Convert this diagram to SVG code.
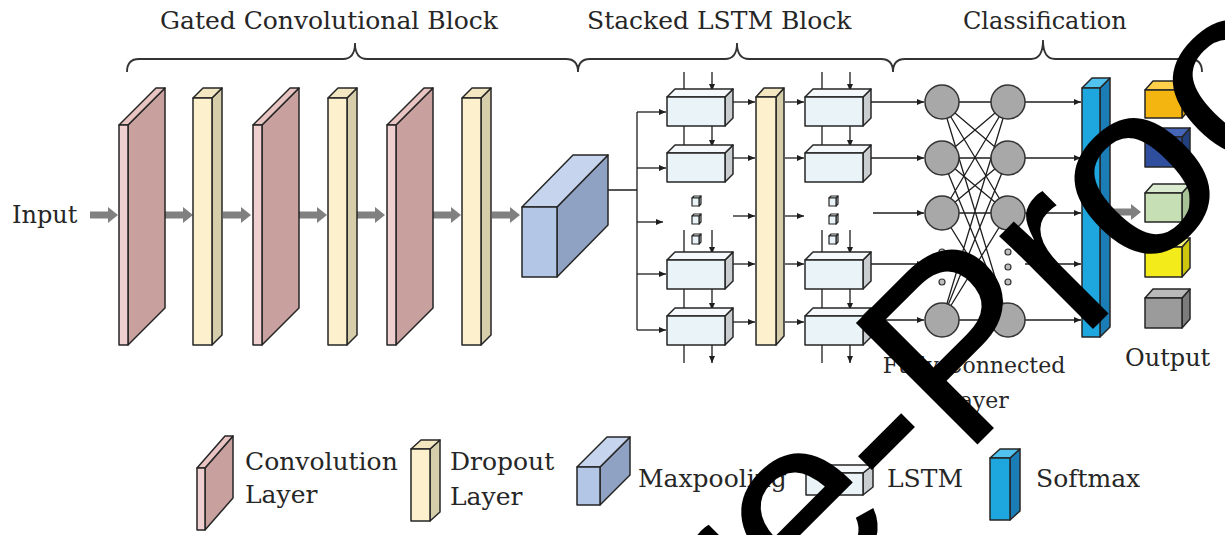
<svg xmlns="http://www.w3.org/2000/svg" xmlns:xlink="http://www.w3.org/1999/xlink" width="1225" height="535" viewBox="0 0 1225 535">
  <style>
    .lbl { font-family: "DejaVu Serif", "Liberation Serif", serif; fill: #262626; }
    .ol { stroke: #262626; stroke-width: 1.5; stroke-linejoin: round; }
    .brace { fill: none; stroke: #333; stroke-width: 1.8; }
    .wire { fill: none; stroke: #1e1e1e; stroke-width: 1.3; }
    .arr { fill: none; stroke: #1e1e1e; stroke-width: 1.3; marker-end: url(#tip); }
    .fat { fill: #808080; }
    .conv-f { fill: #efcfcf; } .conv-s { fill: #c8a09e; } .conv-t { fill: #e8c4c3; }
    .drop-f { fill: #fdf1cd; } .drop-s { fill: #d6cdab; } .drop-t { fill: #f3e7c2; }
    .pool-f { fill: #b3c6e6; } .pool-s { fill: #8fa2c4; } .pool-t { fill: #c6d4ee; }
    .lstm-f { fill: #eaf4f8; } .lstm-s { fill: #c9cdd0; } .lstm-t { fill: #f5f9fb; }
    .soft-f { fill: #1ea6df; } .soft-s { fill: #1b7db6; } .soft-t { fill: #52c2ee; }
    .node { fill: #a8a8a8; stroke: #333; stroke-width: 1.5; }
    .dot { fill: #bdbdbd; stroke: #333; stroke-width: 1.2; }
  </style>
  <defs>
    <marker id="tip" viewBox="0 0 7 6" refX="7" refY="3" markerWidth="7" markerHeight="6" markerUnits="userSpaceOnUse" orient="auto">
      <path d="M0,0 L7,3 L0,6 z" fill="#1e1e1e"/>
    </marker>
    <!-- thin convolution slab, front face at origin -->
    <g id="convSlab" class="ol">
      <polygon class="conv-s" points="9,0 46,-37 46,183 9,220"/>
      <polygon class="conv-t" points="0,0 37,-37 46,-37 9,0"/>
      <rect class="conv-f" x="0" y="0" width="9" height="220"/>
    </g>
    <!-- dropout column -->
    <g id="dropSlab" class="ol">
      <polygon class="drop-s" points="19,0 29,-10 29,237 19,247"/>
      <polygon class="drop-t" points="0,0 10,-10 29,-10 19,0"/>
      <rect class="drop-f" x="0" y="0" width="19" height="247"/>
    </g>
    <!-- LSTM cell -->
    <g id="lstmBox" class="ol">
      <polygon class="lstm-s" points="58,0 66,-8 66,21 58,29"/>
      <polygon class="lstm-t" points="0,0 8,-8 66,-8 58,0"/>
      <rect class="lstm-f" x="0" y="0" width="58" height="29"/>
    </g>
    <!-- tiny cube used as ellipsis -->
    <g id="miniCube" stroke="#262626" stroke-width="1.2" stroke-linejoin="round">
      <polygon fill="#c9cdd0" points="7,0 9,-2 9,6 7,8"/>
      <polygon fill="#f5f9fb" points="0,0 2,-2 9,-2 7,0"/>
      <rect fill="#eaf4f8" x="0" y="0" width="7" height="8"/>
    </g>
    <!-- thick grey flow arrow -->
    <path id="fatArrow" class="fat" d="M0,-3.5 H18 V-8 L28,0 L18,8 V3.5 H0 Z"/>
  </defs>

  <rect width="1225" height="535" fill="#ffffff"/>

  <!-- section titles and braces -->
  <g id="titles">
    <text class="lbl" x="160" y="29" font-size="25">Gated Convolutional Block</text>
    <text class="lbl" x="587" y="29" font-size="25">Stacked LSTM Block</text>
    <text class="lbl" x="963" y="29" font-size="24">Classification</text>
    <path class="brace" d="M127,72 Q127,59 139,59 L343,59 Q355,59 355,43 Q355,59 367,59 L566,59 Q578,59 578,72 Q578,59 590,59 L725,59 Q737,59 737,43 Q737,59 749,59 L881,59 Q893,59 893,72 Q893,59 905,59 L1031,59 Q1043,59 1043,40 Q1043,59 1055,59 L1190,59 Q1202,59 1202,72"/>
  </g>

  <!-- connectors -->
  <g id="connectors">
    <!-- gated convolution flow -->
    <use xlink:href="#fatArrow" x="90" y="215"/>
    <use xlink:href="#fatArrow" x="165" y="215"/>
    <use xlink:href="#fatArrow" x="223" y="215"/>
    <use xlink:href="#fatArrow" x="299" y="215"/>
    <use xlink:href="#fatArrow" x="357" y="215"/>
    <use xlink:href="#fatArrow" x="433" y="215"/>
    <use xlink:href="#fatArrow" x="492" y="215"/>
    <use xlink:href="#fatArrow" x="1113" y="212"/>

    <!-- pooling output to the LSTM bus -->
    <path class="wire" d="M608,190 H637 M637,112 V330"/>
    <path class="arr" d="M637,112 H666"/>
    <path class="arr" d="M637,168 H666"/>
    <path class="arr" d="M637,222 H663"/>
    <path class="arr" d="M637,274 H666"/>
    <path class="arr" d="M637,330 H666"/>

    <!-- LSTM column 1 vertical flow -->
    <path class="arr" d="M684,72 V91 M712,72 V91"/>
    <path class="arr" d="M684,126 V147 M712,126 V147"/>
    <path class="arr" d="M684,230 V254 M712,230 V254"/>
    <path class="arr" d="M684,289 V310 M712,289 V310"/>
    <path class="arr" d="M684,345 V363 M712,345 V363"/>
    <!-- LSTM column 2 vertical flow -->
    <path class="arr" d="M822,72 V91 M850,72 V91"/>
    <path class="arr" d="M822,126 V147 M850,126 V147"/>
    <path class="arr" d="M822,230 V254 M850,230 V254"/>
    <path class="arr" d="M822,289 V310 M850,289 V310"/>
    <path class="arr" d="M822,345 V363 M850,345 V363"/>

    <!-- column 1 to dropout -->
    <path class="arr" d="M733,102 H755"/>
    <path class="arr" d="M733,158 H755"/>
    <path class="arr" d="M733,216 H755"/>
    <path class="arr" d="M733,264 H755"/>
    <path class="arr" d="M733,322 H755"/>
    <!-- dropout to column 2 -->
    <path class="arr" d="M785,102 H804"/>
    <path class="arr" d="M785,158 H804"/>
    <path class="arr" d="M785,216 H804"/>
    <path class="arr" d="M785,264 H804"/>
    <path class="arr" d="M785,322 H804"/>

    <!-- column 2 to fully connected inputs -->
    <path class="arr" d="M871,102 H924"/>
    <path class="arr" d="M871,158 H924"/>
    <path class="arr" d="M873,213 H924"/>
    <path class="arr" d="M871,264 H924"/>
    <path class="arr" d="M871,320 H924"/>

    <!-- dense connections between the two hidden layers -->
    <path class="wire" stroke-width="1.1" d="M942,102 L1008,102 M942,102 L1008,158 M942,102 L1008,213 M942,102 L1008,320
      M942,158 L1008,102 M942,158 L1008,158 M942,158 L1008,213 M942,158 L1008,320
      M942,213 L1008,102 M942,213 L1008,158 M942,213 L1008,213 M942,213 L1008,320
      M942,320 L1008,102 M942,320 L1008,158 M942,320 L1008,213 M942,320 L1008,320"/>

    <!-- hidden layer to softmax -->
    <path class="arr" d="M1025,102 H1081"/>
    <path class="arr" d="M1025,158 H1081"/>
    <path class="arr" d="M1025,213 H1081"/>
    <path class="arr" d="M1025,264 H1081"/>
    <path class="arr" d="M1025,320 H1081"/>
  </g>

  <!-- input label -->
  <g id="input">
    <text class="lbl" x="12" y="223" font-size="24">Input</text>
  </g>

  <!-- gated convolutional block -->
  <g id="conv1"><use xlink:href="#convSlab" x="119" y="125"/></g>
  <g id="drop1"><use xlink:href="#dropSlab" x="193" y="98"/></g>
  <g id="conv2"><use xlink:href="#convSlab" x="253" y="125"/></g>
  <g id="drop2"><use xlink:href="#dropSlab" x="328" y="98"/></g>
  <g id="conv3"><use xlink:href="#convSlab" x="387" y="125"/></g>
  <g id="drop3"><use xlink:href="#dropSlab" x="462" y="98"/></g>

  <!-- max pooling block -->
  <g id="maxpool" class="ol">
    <polygon class="pool-s" points="557,207 608,155 608,225 557,277"/>
    <polygon class="pool-t" points="522,207 573,155 608,155 557,207"/>
    <rect class="pool-f" x="522" y="207" width="35" height="70"/>
  </g>

  <!-- stacked LSTM block -->
  <g id="lstm-col1">
    <use xlink:href="#lstmBox" x="667" y="97"/>
    <use xlink:href="#lstmBox" x="667" y="153"/>
    <use xlink:href="#lstmBox" x="667" y="260"/>
    <use xlink:href="#lstmBox" x="667" y="316"/>
    <use xlink:href="#miniCube" x="692" y="198"/>
    <use xlink:href="#miniCube" x="692" y="216"/>
    <use xlink:href="#miniCube" x="692" y="236"/>
  </g>
  <g id="lstm-drop">
    <g class="ol">
      <polygon class="drop-s" points="776,97 784,88 784,336 776,345"/>
      <polygon class="drop-t" points="756,97 764,88 784,88 776,97"/>
      <rect class="drop-f" x="756" y="97" width="20" height="248"/>
    </g>
  </g>
  <g id="lstm-col2">
    <use xlink:href="#lstmBox" x="805" y="97"/>
    <use xlink:href="#lstmBox" x="805" y="153"/>
    <use xlink:href="#lstmBox" x="805" y="260"/>
    <use xlink:href="#lstmBox" x="805" y="316"/>
    <use xlink:href="#miniCube" x="829" y="198"/>
    <use xlink:href="#miniCube" x="829" y="216"/>
    <use xlink:href="#miniCube" x="829" y="236"/>
  </g>

  <!-- fully connected layers -->
  <g id="fc1">
    <circle class="node" cx="942" cy="102" r="17"/>
    <circle class="node" cx="942" cy="158" r="17"/>
    <circle class="node" cx="942" cy="213" r="17"/>
    <circle class="node" cx="942" cy="320" r="17"/>
    <circle class="dot" cx="942" cy="252" r="3"/>
    <circle class="dot" cx="942" cy="267" r="3"/>
    <circle class="dot" cx="942" cy="282" r="3"/>
  </g>
  <g id="fc2">
    <circle class="node" cx="1008" cy="102" r="17"/>
    <circle class="node" cx="1008" cy="158" r="17"/>
    <circle class="node" cx="1008" cy="213" r="17"/>
    <circle class="node" cx="1008" cy="320" r="17"/>
    <circle class="dot" cx="1008" cy="252" r="3"/>
    <circle class="dot" cx="1008" cy="267" r="3"/>
    <circle class="dot" cx="1008" cy="282" r="3"/>
  </g>
  <g id="fc-label">
    <text class="lbl" x="974" y="373" font-size="22" text-anchor="middle">Fully Connected</text>
    <text class="lbl" x="977" y="408" font-size="22" text-anchor="middle">Layer</text>
  </g>

  <!-- softmax column -->
  <g id="softmax" class="ol">
    <polygon class="soft-s" points="1100,88 1110,78 1110,327 1100,337"/>
    <polygon class="soft-t" points="1082,88 1092,78 1110,78 1100,88"/>
    <rect class="soft-f" x="1082" y="88" width="18" height="249"/>
  </g>

  <!-- output classes -->
  <g id="output" class="ol">
    <polygon fill="#d49b00" points="1182,90 1190,81 1190,109 1182,118"/>
    <polygon fill="#ffd04a" points="1145,90 1153,81 1190,81 1182,90"/>
    <rect fill="#f5b511" x="1145" y="90" width="37" height="28"/>

    <polygon fill="#22407f" points="1182,137 1190,128 1190,158 1182,167"/>
    <polygon fill="#4566b8" points="1145,137 1153,128 1190,128 1182,137"/>
    <rect fill="#2f4f9e" x="1145" y="137" width="37" height="30"/>

    <polygon fill="#a7c296" points="1182,193 1190,184 1190,213 1182,222"/>
    <polygon fill="#dbebcf" points="1145,193 1153,184 1190,184 1182,193"/>
    <rect fill="#c6dfb5" x="1145" y="193" width="37" height="29"/>

    <polygon fill="#cdc60c" points="1182,247 1190,238 1190,268 1182,277"/>
    <polygon fill="#faf57c" points="1145,247 1153,238 1190,238 1182,247"/>
    <rect fill="#f4ec1a" x="1145" y="247" width="37" height="30"/>

    <polygon fill="#7c7c7c" points="1182,298 1190,289 1190,319 1182,328"/>
    <polygon fill="#b9b9b9" points="1145,298 1153,289 1190,289 1182,298"/>
    <rect fill="#9b9b9b" x="1145" y="298" width="37" height="30"/>
    <text class="lbl" x="1125" y="366" font-size="24" stroke="none">Output</text>
  </g>

  <!-- legend -->
  <g id="legend-conv">
    <g class="ol">
      <polygon class="conv-s" points="205,468 233,436 233,498 205,530"/>
      <polygon class="conv-t" points="197,468 225,436 233,436 205,468"/>
      <rect class="conv-f" x="197" y="468" width="8" height="62"/>
    </g>
    <text class="lbl" x="245" y="470" font-size="25">Convolution</text>
    <text class="lbl" x="245" y="503" font-size="25">Layer</text>
  </g>
  <g id="legend-drop">
    <g class="ol">
      <polygon class="drop-s" points="430,449 440,440 440,512 430,521"/>
      <polygon class="drop-t" points="411,449 421,440 440,440 430,449"/>
      <rect class="drop-f" x="411" y="449" width="19" height="72"/>
    </g>
    <text class="lbl" x="450" y="470" font-size="25">Dropout</text>
    <text class="lbl" x="450" y="505" font-size="25">Layer</text>
  </g>
  <g id="legend-pool">
    <g class="ol">
      <polygon class="pool-s" points="600,467 630,437 630,475 600,505"/>
      <polygon class="pool-t" points="577,467 607,437 630,437 600,467"/>
      <rect class="pool-f" x="577" y="467" width="23" height="38"/>
    </g>
    <text class="lbl" x="638" y="487" font-size="25">Maxpooling</text>
  </g>
  <g id="legend-lstm">
    <g class="ol">
      <polygon class="lstm-s" points="863,473 873,465 873,487 863,495"/>
      <polygon class="lstm-t" points="806,473 816,465 873,465 863,473"/>
      <rect class="lstm-f" x="806" y="473" width="57" height="22"/>
    </g>
    <text class="lbl" x="887" y="487" font-size="25">LSTM</text>
  </g>
  <g id="legend-softmax">
    <g class="ol">
      <polygon class="soft-s" points="1010,458 1020,449 1020,511 1010,520"/>
      <polygon class="soft-t" points="990,458 1000,449 1020,449 1010,458"/>
      <rect class="soft-f" x="990" y="458" width="20" height="62"/>
    </g>
    <text class="lbl" x="1036" y="487" font-size="25">Softmax</text>
  </g>

  <!-- diagonal stamp across the sheet -->
  <g id="stamp">
    <text x="0" y="0" transform="translate(629 793) rotate(-45)" font-family="Liberation Sans, Arial, sans-serif" font-size="250" fill="#000000">Pre-Proof</text>
  </g>
</svg>
